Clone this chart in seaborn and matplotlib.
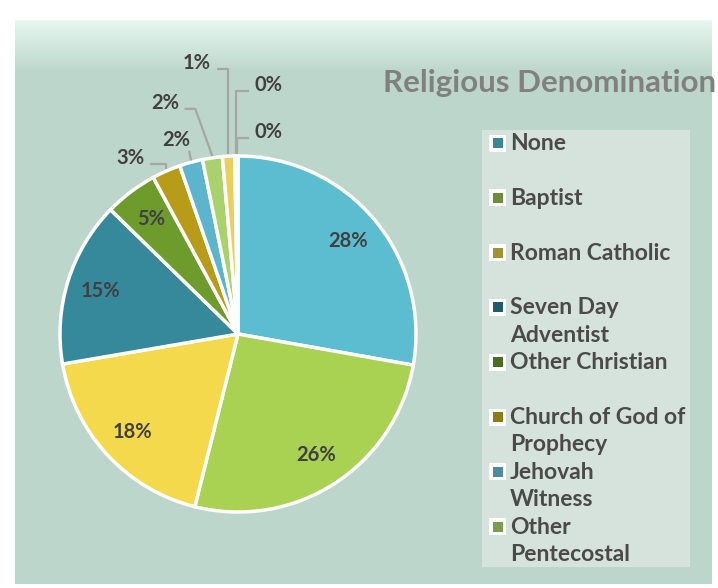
import numpy as np
import matplotlib.pyplot as plt
import seaborn as sns
from matplotlib.patches import Rectangle

sns.set_theme(style="white")
plt.rcParams['font.family'] = ['Lato', 'DejaVu Sans']

# data (percent of respondents)
denominations = ['None', 'Baptist', 'Roman Catholic', 'Seven Day\nAdventist', 'Other Christian',
                 'Church of God of\nProphecy', 'Jehovah\nWitness', 'Other\nPentecostal',
                 'Other', 'Rastafarian', 'Not Stated']
shares = [27.8, 26.1, 18.4, 15.0, 4.8, 2.6, 2.1, 1.8, 1.1, 0.2, 0.1]
legend_shown = 8  # legend in the original is cut off after 8 entries

slice_colors = ['#5dbdd0', '#a9d152', '#f5d94c', '#36899b', '#6e9c2c', '#b99b1a',
                '#5cb5cc', '#aad26c', '#eacf5e', '#36899b', '#6e9c2c']
legend_colors = ['#3c8596', '#6f8c38', '#a39232', '#1f5d6b', '#4c6c22', '#8c7c12',
                 '#4c8c9c', '#7c9c4c']

W, H = 718, 588
fig = plt.figure(figsize=(W / 100, H / 100), dpi=100)
fig.patch.set_facecolor('white')

# panel background with a light bevel at the top
bg = fig.add_axes([15 / W, 1 - 584 / H, 697 / W, 564 / H])
grad = np.ones((200, 2, 3))
top = np.array([0.90, 0.97, 0.94])
mid = np.array([0.74, 0.84, 0.80])
t = np.clip(np.linspace(0, 1, 200) / 0.09, 0, 1)[:, None]
grad[:, :, :] = (top * (1 - t) + mid * t)[:, None, :]
bg.imshow(grad, aspect='auto', extent=[0, 1, 0, 1])
bg.set_xlim(0, 1)
bg.set_ylim(0, 1)
bg.axis('off')

# pie
cx, cy, R = 238, 334, 178
ax = fig.add_axes([(cx - R) / W, (H - cy - R) / H, 2 * R / W, 2 * R / H])
wedges, _, autotexts = ax.pie(
    shares, colors=slice_colors, startangle=90, counterclock=False,
    autopct=lambda p: f'{p:.0f}%' if p >= 4 else '', pctdistance=0.81,
    wedgeprops=dict(edgecolor='white', linewidth=2.5),
    textprops=dict(fontsize=14.5, fontweight='bold', color='#404040'))
ax.set_xlim(-1, 1)
ax.set_ylim(-1, 1)
ax.set_aspect('equal')
ax.axis('off')

# outside labels for the small slices, with leader lines
small_pos = {5: (-0.607, 0.99), 6: (-0.345, 1.09), 7: (-0.41, 1.30),
             8: (-0.23, 1.525), 9: (0.17, 1.40), 10: (0.17, 1.135)}
for i, (tx, ty) in small_pos.items():
    w = wedges[i]
    ang = np.deg2rad((w.theta1 + w.theta2) / 2)
    ax_, ay_ = np.cos(ang) * 1.0, np.sin(ang) * 1.0
    ax.text(tx, ty, f'{shares[i]:.0f}%', ha='center', va='center', fontsize=14.5,
            fontweight='bold', color='#404040', clip_on=False)
    ly = ty - 0.035
    if tx < ax_:
        x0 = tx + 0.11
    else:
        x0 = tx - 0.11
    if i == 6:
        xs, ys = [tx + 0.07, ax_], [ty - 0.06, ay_ + 0.01]
    elif i == 7:
        xs, ys = [x0, x0 + 0.06, ax_], [ly, ly, ay_ + 0.01]
    else:
        xs, ys = [x0, ax_, ax_], [ly, ly, ay_ + 0.01]
    ax.plot(xs, ys, color='#a6a6a6', lw=1.6, clip_on=False, solid_capstyle='butt')

# title
fig.text(383 / W, 1 - 83 / H, 'Religious Denomination', ha='left', va='center',
         fontsize=22.5, fontweight='bold', color='#808080')

# legend drawn as a box with entries at a fixed pitch
lg = fig.add_axes([482 / W, 1 - 567 / H, 208 / W, 437 / H])
lg.set_facecolor('#d6e3dd')
for s in lg.spines.values():
    s.set_visible(False)
lg.set_xticks([])
lg.set_yticks([])
lg.set_xlim(0, 208)
lg.set_ylim(437, 0)
for k in range(legend_shown):
    y = 13 + k * 54.8
    lg.add_patch(Rectangle((7, y - 8.5), 17, 17, facecolor='white', edgecolor='none'))
    lg.add_patch(Rectangle((10.5, y - 5), 10, 10, facecolor=legend_colors[k], edgecolor='none'))
    lg.text(28, y - 10, denominations[k], ha='left', va='top', fontsize=16.5,
            fontweight='bold', color='#4a4a4a', linespacing=1.38)

fig.savefig('out.png', dpi=100)
